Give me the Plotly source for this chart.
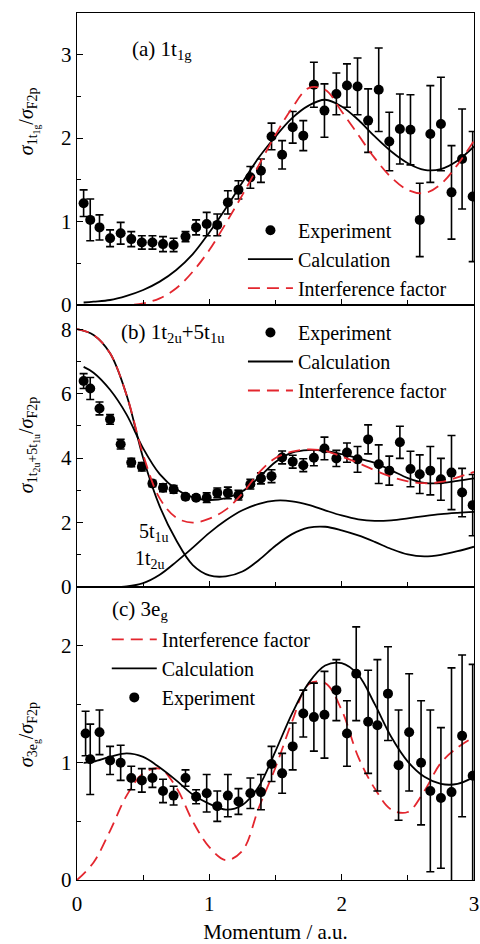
import plotly.graph_objects as go
from plotly.subplots import make_subplots

# ---------------- data ----------------
# Panel (a) 1t1g experiment
A_X = [0.05, 0.10, 0.17, 0.25, 0.33, 0.41, 0.49, 0.57, 0.65, 0.73, 0.82, 0.90, 0.98, 1.06, 1.14, 1.22,
       1.31, 1.39, 1.47, 1.55, 1.63, 1.71, 1.79, 1.87, 1.96, 2.04, 2.12, 2.20, 2.28, 2.36, 2.44, 2.52,
       2.59, 2.67, 2.75, 2.83, 2.91, 2.99]
A_Y = [1.22, 1.02, 0.93, 0.80, 0.86, 0.79, 0.75, 0.75, 0.73, 0.72, 0.82, 0.93, 0.97, 0.96, 1.23, 1.38,
       1.53, 1.61, 2.02, 1.80, 2.13, 2.03, 2.64, 2.33, 2.53, 2.63, 2.62, 2.21, 2.58, 1.96, 2.11, 2.10,
       1.02, 2.05, 2.17, 1.35, 1.75, 1.30]
A_ERR = [0.16, 0.25, 0.15, 0.10, 0.13, 0.09, 0.08, 0.08, 0.09, 0.08, 0.06, 0.09, 0.14, 0.13, 0.14, 0.11,
         0.13, 0.14, 0.16, 0.17, 0.19, 0.18, 0.27, 0.32, 0.25, 0.26, 0.34, 0.38, 0.50, 0.35, 0.42, 0.42,
         0.44, 0.58, 0.56, 0.56, 0.60, 0.78]

GRID_X = [0.0, 0.125, 0.25, 0.375, 0.5, 0.625, 0.75, 0.875, 1.0, 1.125, 1.25, 1.375, 1.5, 1.625, 1.75,
          1.875, 2.0, 2.125, 2.25, 2.375, 2.5, 2.625, 2.75, 2.875, 3.0]
CALC_X = [0.05, 0.125, 0.25, 0.375, 0.5, 0.625, 0.75, 0.875, 1.0, 1.125, 1.25, 1.375, 1.5, 1.625, 1.75,
          1.875, 2.0, 2.125, 2.25, 2.375, 2.5, 2.625, 2.75, 2.875, 3.0]

A_CALC = [0.03, 0.04, 0.06, 0.11, 0.18, 0.28, 0.42, 0.61, 0.87, 1.16, 1.47, 1.77, 2.02, 2.24, 2.39,
          2.46, 2.38, 2.22, 2.02, 1.84, 1.70, 1.62, 1.63, 1.73, 1.90]
A_INTF = [0.0, 0.0, 0.0, 0.0, 0.02, 0.08, 0.20, 0.40, 0.66, 0.98, 1.32, 1.68, 2.04, 2.36, 2.60,
          2.58, 2.32, 2.04, 1.76, 1.53, 1.38, 1.34, 1.45, 1.68, 1.97]

# Panel (b) 1t2u+5t1u
B_X = A_X
B_Y = [6.39, 6.16, 5.54, 5.20, 4.43, 3.86, 3.73, 3.21, 3.08, 3.03, 2.80, 2.77, 2.77, 2.92, 2.92, 2.85,
       3.19, 3.37, 3.44, 4.02, 3.89, 3.78, 4.01, 4.30, 3.99, 4.17, 3.96, 4.58, 3.81, 3.61, 4.49, 3.66,
       3.50, 3.61, 3.34, 3.55, 2.93, 2.54]
B_ERR = [0.23, 0.34, 0.20, 0.15, 0.15, 0.13, 0.13, 0.10, 0.12, 0.12, 0.08, 0.08, 0.15, 0.15, 0.18, 0.15,
         0.15, 0.17, 0.20, 0.20, 0.20, 0.20, 0.25, 0.35, 0.25, 0.30, 0.40, 0.45, 0.60, 0.45, 0.50, 0.55,
         0.60, 0.75, 0.65, 1.15, 0.75, 0.95]
B_CALC = [6.83, 6.65, 6.12, 5.35, 4.30, 3.50, 3.03, 2.78, 2.70, 2.76, 2.97, 3.40, 3.88, 4.17, 4.25,
          4.22, 4.12, 3.99, 3.85, 3.62, 3.38, 3.23, 3.22, 3.29, 3.37]
B_INTF = [8.0, 7.82, 7.25, 5.95, 4.10, 2.75, 2.15, 2.00, 2.12, 2.40, 2.90, 3.55, 4.00, 4.20, 4.27,
          4.22, 4.05, 3.85, 3.62, 3.42, 3.28, 3.22, 3.26, 3.40, 3.57]
B_5T1U = [8.0, 7.82, 7.25, 5.95, 4.00, 2.50, 1.45, 0.68, 0.36, 0.33, 0.48, 0.84, 1.28, 1.64, 1.84,
          1.87, 1.76, 1.60, 1.40, 1.18, 1.01, 0.95, 1.00, 1.11, 1.25]
B_1T2U = [0.0, 0.0, 0.0, 0.02, 0.12, 0.38, 0.78, 1.22, 1.68, 2.07, 2.38, 2.58, 2.68, 2.66, 2.55,
          2.38, 2.22, 2.10, 2.05, 2.07, 2.13, 2.20, 2.26, 2.30, 2.33]

# Panel (c) 3eg
C_X = [0.065, 0.10, 0.17, 0.25, 0.33, 0.41, 0.49, 0.57, 0.65, 0.73, 0.82, 0.90, 0.98, 1.06, 1.14, 1.22,
       1.31, 1.39, 1.47, 1.55, 1.63, 1.71, 1.79, 1.87, 1.96, 2.04, 2.11, 2.20, 2.27, 2.35, 2.43, 2.51,
       2.60, 2.67, 2.75, 2.83, 2.91, 2.99]
C_Y = [1.25, 1.03, 1.26, 1.02, 1.00, 0.87, 0.85, 0.87, 0.76, 0.72, 0.87, 0.71, 0.74, 0.63, 0.72, 0.67,
       0.74, 0.75, 0.99, 0.91, 1.14, 1.42, 1.39, 1.41, 1.62, 1.25, 1.76, 1.35, 1.32, 1.59, 0.98, 1.26,
       1.00, 0.76, 0.70, 0.75, 1.23, 0.89]
C_ERR = [0.19, 0.30, 0.19, 0.12, 0.15, 0.10, 0.10, 0.08, 0.10, 0.08, 0.07, 0.06, 0.16, 0.13, 0.18, 0.11,
         0.13, 0.15, 0.15, 0.17, 0.20, 0.20, 0.29, 0.37, 0.26, 0.28, 0.40, 0.44, 0.56, 0.40, 0.47, 0.50,
         0.53, 0.69, 0.60, 1.06, 0.69, 0.95]
C_CALC = [1.00, 1.01, 1.05, 1.08, 1.05, 0.96, 0.85, 0.73, 0.65, 0.60, 0.64, 0.80, 1.10, 1.42, 1.68,
          1.83, 1.85, 1.75, 1.50, 1.22, 1.01, 0.88, 0.82, 0.82, 0.88]
C_INTF = [0.0, 0.15, 0.42, 0.72, 0.91, 0.95, 0.79, 0.50, 0.28, 0.17, 0.25, 0.62, 0.96, 1.35, 1.67,
          1.68, 1.45, 1.05, 0.78, 0.60, 0.58, 0.76, 1.00, 1.13, 1.22]

# ---------------- style ----------------
FONT = "Liberation Serif, Times New Roman, Times, serif"
RED = "#e3262e"
FS = 20
FS_BIG = 21

fig = make_subplots(rows=3, cols=1, shared_xaxes=True, vertical_spacing=0,
                    row_heights=[292, 282, 293])


def exp_trace(x, y, err, leg):
    return go.Scatter(x=x, y=y, mode="markers", name="Experiment", legend=leg,
                      marker=dict(color="black", size=10),
                      error_y=dict(type="data", array=err, color="black", thickness=1.6, width=4))


def line_trace(x, y, name, leg, color="black", dash="solid", show=True):
    return go.Scatter(x=x, y=y, mode="lines", name=name, legend=leg, showlegend=show,
                      line=dict(color=color, width=1.8, dash=dash, shape="spline", smoothing=1.0))


DASH = "12px,7px"

# panel a
fig.add_trace(exp_trace(A_X, A_Y, A_ERR, "legend"), 1, 1)
fig.add_trace(line_trace(CALC_X, A_CALC, "Calculation", "legend"), 1, 1)
fig.add_trace(line_trace(GRID_X, A_INTF, "Interference factor", "legend", RED, DASH), 1, 1)

# panel b
fig.add_trace(line_trace(GRID_X, B_5T1U, "5t1u", "legend2", show=False), 2, 1)
fig.add_trace(line_trace(GRID_X, B_1T2U, "1t2u", "legend2", show=False), 2, 1)
fig.add_trace(exp_trace(B_X, B_Y, B_ERR, "legend2"), 2, 1)
fig.add_trace(line_trace(CALC_X, B_CALC, "Calculation", "legend2"), 2, 1)
fig.add_trace(line_trace(GRID_X, B_INTF, "Interference factor", "legend2", RED, DASH), 2, 1)

# panel c
fig.add_trace(line_trace(GRID_X, C_INTF, "Interference factor", "legend3", RED, DASH), 3, 1)
fig.add_trace(line_trace(CALC_X, C_CALC, "Calculation", "legend3"), 3, 1)
fig.add_trace(exp_trace(C_X, C_Y, C_ERR, "legend3"), 3, 1)

axis_common = dict(showline=True, linecolor="black", linewidth=1.4, mirror=True,
                   ticks="inside", ticklen=6, tickwidth=1.4, tickcolor="black",
                   showgrid=False, zeroline=False, automargin=False,
                   tickfont=dict(family=FONT, size=FS_BIG, color="black"))

for r in (1, 2, 3):
    fig.update_xaxes(range=[0, 3], tickvals=[0, 1, 2, 3], ticktext=["0", "1", "2", "3"],
                     minor=dict(ticks="inside", ticklen=5, dtick=0.5, tickcolor="black", tickwidth=1.2),
                     row=r, col=1, **axis_common)

fig.update_xaxes(showticklabels=True, ticklabelstandoff=5, row=3, col=1)
fig.update_xaxes(title=dict(text="Momentum / a.u.", font=dict(family=FONT, size=FS_BIG, color="black"),
                            standoff=15), row=3, col=1)

fig.update_yaxes(range=[0, 3.5], tickvals=[0, 1, 2, 3],
                 minor=dict(ticks="inside", ticklen=4, dtick=0.5, tickcolor="black", tickwidth=1.2),
                 row=1, col=1, **axis_common)
fig.update_yaxes(range=[0, 8.75], tickvals=[0, 2, 4, 6, 8],
                 minor=dict(ticks="inside", ticklen=4, dtick=1, tickcolor="black", tickwidth=1.2),
                 row=2, col=1, **axis_common)
fig.update_yaxes(range=[0, 2.5], tickvals=[0, 1, 2],
                 minor=dict(ticks="inside", ticklen=4, dtick=0.5, tickcolor="black", tickwidth=1.2),
                 row=3, col=1, **axis_common)

leg_common = dict(xanchor="left", yanchor="top", bgcolor="rgba(0,0,0,0)", borderwidth=0,
                  font=dict(family=FONT, size=FS, color="black"), itemwidth=45,
                  traceorder="normal", tracegroupgap=0)

fig.update_layout(
    width=480, height=944,
    margin=dict(l=77, r=6, t=13, b=64, autoexpand=False),
    paper_bgcolor="white", plot_bgcolor="white",
    font=dict(family=FONT, size=FS, color="black"),
    legend=dict(x=0.418, y=0.772, **leg_common),
    legend2=dict(x=0.418, y=0.654, **leg_common),
    legend3=dict(x=0.075, y=0.300, **leg_common),
)

ann = []
# y-axis titles
ytitles = [
    ("<i>σ</i><sub>1t<sub>1g</sub></sub>/<i>σ</i><sub>F2p</sub>", 0.8754),
    ("<i>σ</i><sub>1t<sub>2u</sub>+5t<sub>1u</sub></sub>/<i>σ</i><sub>F2p</sub>", 0.5017),
    ("<i>σ</i><sub>3e<sub>g</sub></sub>/<i>σ</i><sub>F2p</sub>", 0.1672),
]
for txt, yy in ytitles:
    ann.append(dict(text=txt, xref="paper", yref="paper", x=-0.123, y=yy, textangle=-90,
                    showarrow=False, xanchor="center", yanchor="middle",
                    font=dict(family=FONT, size=FS, color="black")))
# panel labels
ann.append(dict(text="(a) 1t<sub>1g</sub>", xref="paper", yref="paper", x=0.1335, y=0.9573,
                xanchor="left", yanchor="middle", showarrow=False,
                font=dict(family=FONT, size=FS_BIG, color="black")))
ann.append(dict(text="(b) 1t<sub>2u</sub>+5t<sub>1u</sub>", xref="paper", yref="paper", x=0.1058, y=0.6309,
                xanchor="left", yanchor="middle", showarrow=False,
                font=dict(family=FONT, size=FS_BIG, color="black")))
ann.append(dict(text="(c) 3e<sub>g</sub>", xref="paper", yref="paper", x=0.083, y=0.3114,
                xanchor="left", yanchor="middle", showarrow=False,
                font=dict(family=FONT, size=FS_BIG, color="black")))
# component labels panel b
ann.append(dict(text="5t<sub>1u</sub>", xref="x2", yref="y2", x=0.454, y=1.7,
                xanchor="left", yanchor="middle", showarrow=False,
                font=dict(family=FONT, size=FS, color="black")))
ann.append(dict(text="1t<sub>2u</sub>", xref="x2", yref="y2", x=0.423, y=0.84,
                xanchor="left", yanchor="middle", showarrow=False,
                font=dict(family=FONT, size=FS, color="black")))
fig.update_layout(annotations=ann)

fig.write_html("out.html")
